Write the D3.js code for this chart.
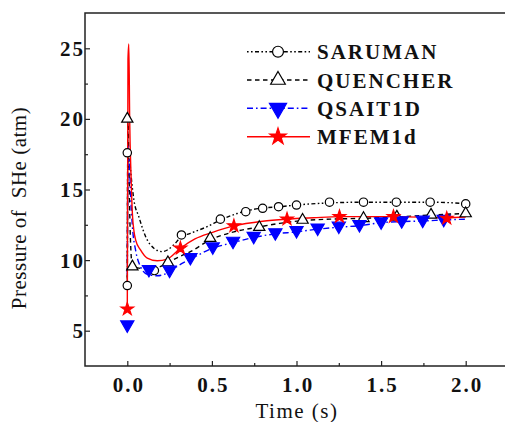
<!DOCTYPE html>
<html><head><meta charset="utf-8">
<script src="https://cdn.jsdelivr.net/npm/d3@7"></script>
<style>
html,body{margin:0;padding:0;background:#fff;}
svg{display:block;}
svg text{font-family:"Times New Roman","Liberation Serif",Times,serif;}
</style></head>
<body>
<svg id="chart" width="505" height="422"></svg>
<script>
// ---- data ----
const seriesNames = ["SARUMAN", "QUENCHER", "QSAIT1D", "MFEM1d"];
const xTicks = [0.0, 0.5, 1.0, 1.5, 2.0];
const xTickLabels = ["0.0", "0.5", "1.0", "1.5", "2.0"];
const yTicks = [5, 10, 15, 20, 25];
const yTickLabels = ["5", "10", "15", "20", "25"];

const sarumanLine = [[0,8.2],[0.003,17.6],[0.009,17.9],[0.02,16.3],[0.039,14.26],[0.068,13.08],[0.108,11.67],[0.157,10.84],[0.206,10.6],[0.275,11.08],[0.314,11.6],[0.373,11.9],[0.472,12.37],[0.55,12.84],[0.649,13.3],[0.786,13.67],[0.904,13.78],[1.0,13.9],[1.195,14.05],[1.4,14.1],[1.6,14.1],[1.8,14.1],[2.0,14.0]];
const sarumanMarks = [[0,8.2],[0,17.6],[0.16,9.26],[0.32,11.78],[0.55,12.9],[0.70,13.43],[0.80,13.67],[0.894,13.78],[1.0,13.9],[1.195,14.1],[1.396,14.1],[1.59,14.1],[1.79,14.1],[2.0,13.98]];

const quencherLine = [[0,8.6],[0.004,20.0],[0.008,18],[0.015,13],[0.022,10.5],[0.03,9.6],[0.06,9.45],[0.1,9.4],[0.15,9.45],[0.197,9.55],[0.24,9.83],[0.3,10.2],[0.373,10.6],[0.49,11.43],[0.63,12.0],[0.79,12.37],[0.9,12.6],[1.036,12.8],[1.2,12.9],[1.4,12.96],[1.6,13.06],[1.8,13.2],[2.0,13.3]];
const quencherMarks = [[0,20.0],[0.03,9.54],[0.24,9.83],[0.49,11.55],[0.78,12.33],[1.036,12.84],[1.396,12.96],[1.593,13.06],[1.795,13.2],[2.0,13.3]];

const qsaitLine = [[0,9.0],[0.005,18.2],[0.012,17],[0.02,14.5],[0.03,12.4],[0.049,10.7],[0.078,9.54],[0.118,9.0],[0.177,8.89],[0.236,9.08],[0.3,9.6],[0.373,10.07],[0.505,10.84],[0.625,11.24],[0.747,11.6],[0.875,11.86],[1.0,12.0],[1.125,12.19],[1.25,12.33],[1.372,12.44],[1.5,12.65],[1.622,12.73],[1.746,12.77],[1.87,12.84],[2.0,12.9]];
const qsaitMarks = [[0,5.42],[0.128,9.35],[0.25,9.3],[0.373,10.2],[0.505,10.95],[0.625,11.35],[0.747,11.7],[0.875,11.95],[1.0,12.1],[1.125,12.28],[1.25,12.42],[1.372,12.53],[1.5,12.72],[1.622,12.8],[1.746,12.84],[1.87,12.9]];

const mfemLine = [[0,6.5],[0.004,24.2],[0.009,25.3],[0.014,20],[0.022,16],[0.03,13.3],[0.04,12.0],[0.05,11.4],[0.078,10.72],[0.118,10.14],[0.177,9.95],[0.236,10.07],[0.314,10.84],[0.4,11.5],[0.5,11.95],[0.63,12.42],[0.8,12.75],[0.944,12.9],[1.1,13.0],[1.254,13.08],[1.573,13.08],[1.888,13.0],[2.0,13.05]];
const mfemMarks = [[0,6.53],[0.314,10.84],[0.63,12.42],[0.944,12.9],[1.254,13.08],[1.573,13.08],[1.888,12.96]];

// ---- layout ----
const svg = d3.select("#chart");
const L = 85, T = 13, R = 508, B = 366;
const x = d3.scaleLinear().domain([-0.25, 2.25]).range([L, R]);
const y = d3.scaleLinear().domain([2.5, 27.5]).range([B, T]);

const styles = [
  {name: seriesNames[0], line: sarumanLine, marks: sarumanMarks, color: "#000", dash: "1.6,2.4,1.6,2.4,4,2.4", sym: d3.symbolCircle, size: 55, fill: "#fff", rot: 0},
  {name: seriesNames[1], line: quencherLine, marks: quencherMarks, color: "#000", dash: "4.5,3.5", sym: d3.symbolTriangle, size: 55, fill: "#fff", rot: 0},
  {name: seriesNames[2], line: qsaitLine, marks: qsaitMarks, color: "#0000ff", dash: "6,3,1.6,3", sym: d3.symbolTriangle, size: 75, fill: "#0000ff", rot: 180},
  {name: seriesNames[3], line: mfemLine, marks: mfemMarks, color: "#ff0000", dash: null, sym: d3.symbolStar, size: 50, fill: "#ff0000", rot: 0}
];

const lineGen = d3.line().x(d => x(d[0])).y(d => y(d[1])).curve(d3.curveMonotoneX);

const plot = svg.append("g");
styles.forEach(s => {
  plot.append("path").datum(s.line)
    .attr("d", lineGen).attr("fill", "none")
    .attr("stroke", s.color).attr("stroke-width", 1.4)
    .attr("stroke-dasharray", s.dash);
});
styles.forEach(s => {
  plot.selectAll(null).data(s.marks).enter().append("path")
    .attr("d", d3.symbol().type(s.sym).size(s.size))
    .attr("transform", d => `translate(${x(d[0])},${y(d[1])}) rotate(${s.rot})`)
    .attr("fill", s.fill).attr("stroke", s.color).attr("stroke-width", 1.2);
});

// ---- axes ----
const xAxis = svg.append("g").attr("transform", `translate(0,${B})`)
  .call(d3.axisBottom(x).tickValues(xTicks).tickFormat((d,i) => xTickLabels[i]).tickSizeInner(-5).tickSizeOuter(0));
const xMinor = svg.append("g").attr("transform", `translate(0,${B})`)
  .call(d3.axisBottom(x).tickValues([0.25, 0.75, 1.25, 1.75]).tickFormat("").tickSizeInner(-3).tickSizeOuter(0));
const yAxis = svg.append("g").attr("transform", `translate(${L},0)`)
  .call(d3.axisLeft(y).tickValues(yTicks).tickFormat((d,i) => yTickLabels[i]).tickSizeInner(-5).tickSizeOuter(0));
const yMinor = svg.append("g").attr("transform", `translate(${L},0)`)
  .call(d3.axisLeft(y).tickValues([7.5, 12.5, 17.5, 22.5]).tickFormat("").tickSizeInner(-3).tickSizeOuter(0));
[xAxis, xMinor, yAxis, yMinor].forEach(g => {
  g.attr("font-family", null);
  g.select(".domain").remove();
  g.selectAll(".tick line").attr("stroke", "#222").attr("stroke-width", 1.2);
});
xAxis.selectAll(".tick text").attr("y", 25.5).attr("dy", 0)
  .attr("font-size", 21).attr("font-weight", "bold").attr("fill", "#111")
  .style("letter-spacing", "2px").attr("dx", 1);
yAxis.selectAll(".tick text").attr("x", 0).attr("dy", "0.33em")
  .attr("font-size", 21).attr("font-weight", "bold").attr("fill", "#111")
  .style("letter-spacing", "2px");

// frame
svg.append("rect").attr("x", L).attr("y", T).attr("width", R - L).attr("height", B - T)
  .attr("fill", "none").attr("stroke", "#222").attr("stroke-width", 1.5);

// axis titles
svg.append("text").attr("x", 297).attr("y", 418).attr("text-anchor", "middle")
  .attr("font-size", 21).attr("fill", "#111").style("letter-spacing", "1.5px")
  .text("Time (s)");
svg.append("text").attr("transform", "translate(26,208) rotate(-90)").attr("text-anchor", "middle")
  .attr("font-size", 21).attr("fill", "#111").style("letter-spacing", "0.5px").style("white-space", "pre")
  .text("Pressure of  SHe (atm)");

// legend
const legY = [51.7, 80, 108.3, 136.7];
const leg = svg.append("g");
styles.forEach((s, i) => {
  leg.append("line").attr("x1", 247).attr("x2", 310).attr("y1", legY[i]).attr("y2", legY[i])
    .attr("stroke", s.color).attr("stroke-width", 1.4).attr("stroke-dasharray", s.dash);
  leg.append("path").attr("d", d3.symbol().type(s.sym).size(s.size * 1.7))
    .attr("transform", `translate(278,${legY[i]}) rotate(${s.rot})`)
    .attr("fill", s.fill).attr("stroke", s.color).attr("stroke-width", 1.2);
  leg.append("text").attr("x", 317).attr("y", legY[i] + 7.5)
    .attr("font-size", 21).attr("font-weight", "bold").attr("fill", "#111")
    .style("letter-spacing", "2px").text(s.name);
});
</script>
</body></html>
